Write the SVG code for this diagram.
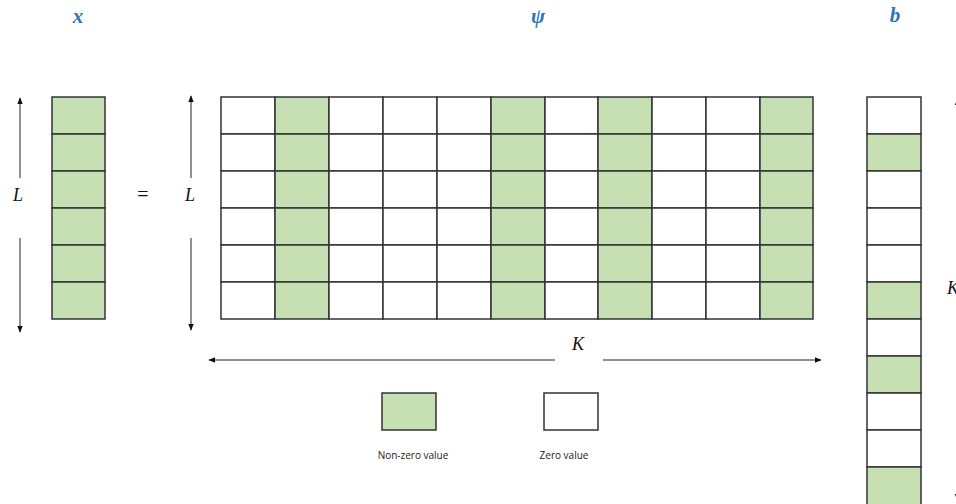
<svg xmlns="http://www.w3.org/2000/svg" width="956" height="504" viewBox="0 0 956 504">
<style>
.nz{fill:#c6e0b4;stroke:#333;stroke-width:1.5}
.z{fill:#fff;stroke:#333;stroke-width:1.5}
.dim{stroke:#222;stroke-width:1;fill:none}
.var{font-family:"Liberation Serif",serif;font-style:italic;font-size:18px;fill:#111}
.ttl{font-family:"Liberation Serif",serif;font-style:italic;font-weight:bold;font-size:21px;fill:#2e75b6}
.leg{font-family:"Open Sans","Liberation Sans",sans-serif;font-size:10px;fill:#222}
</style>
<defs>
<marker id="ah" viewBox="0 0 10 10" refX="9" refY="5" markerWidth="7" markerHeight="7" orient="auto-start-reverse">
<path d="M0,1 L10,5 L0,9 Z" fill="#111"/>
</marker>
</defs>
<rect width="956" height="504" fill="#fff"/>
<g id="titles">
<text class="ttl" x="78" y="23" text-anchor="middle">x</text>
<text class="ttl" x="538" y="23" text-anchor="middle">ψ</text>
<text class="ttl" x="895" y="22" text-anchor="middle">b</text>
</g>
<g id="vector-x">
<rect class="nz" x="52" y="97" width="53" height="37"/>
<rect class="nz" x="52" y="134" width="53" height="37"/>
<rect class="nz" x="52" y="171" width="53" height="37"/>
<rect class="nz" x="52" y="208" width="53" height="37"/>
<rect class="nz" x="52" y="245" width="53" height="37"/>
<rect class="nz" x="52" y="282" width="53" height="37"/>
</g>
<g id="equals"><text class="var" x="143" y="201" text-anchor="middle" style="font-style:normal;font-size:20px">=</text></g>
<g id="matrix-psi">
<g id="col0"><rect class="z" x="221" y="97" width="54" height="37"/><rect class="z" x="221" y="134" width="54" height="37"/><rect class="z" x="221" y="171" width="54" height="37"/><rect class="z" x="221" y="208" width="54" height="37"/><rect class="z" x="221" y="245" width="54" height="37"/><rect class="z" x="221" y="282" width="54" height="37"/></g>
<g id="col1"><rect class="nz" x="275" y="97" width="54" height="37"/><rect class="nz" x="275" y="134" width="54" height="37"/><rect class="nz" x="275" y="171" width="54" height="37"/><rect class="nz" x="275" y="208" width="54" height="37"/><rect class="nz" x="275" y="245" width="54" height="37"/><rect class="nz" x="275" y="282" width="54" height="37"/></g>
<g id="col2"><rect class="z" x="329" y="97" width="54" height="37"/><rect class="z" x="329" y="134" width="54" height="37"/><rect class="z" x="329" y="171" width="54" height="37"/><rect class="z" x="329" y="208" width="54" height="37"/><rect class="z" x="329" y="245" width="54" height="37"/><rect class="z" x="329" y="282" width="54" height="37"/></g>
<g id="col3"><rect class="z" x="383" y="97" width="54" height="37"/><rect class="z" x="383" y="134" width="54" height="37"/><rect class="z" x="383" y="171" width="54" height="37"/><rect class="z" x="383" y="208" width="54" height="37"/><rect class="z" x="383" y="245" width="54" height="37"/><rect class="z" x="383" y="282" width="54" height="37"/></g>
<g id="col4"><rect class="z" x="437" y="97" width="54" height="37"/><rect class="z" x="437" y="134" width="54" height="37"/><rect class="z" x="437" y="171" width="54" height="37"/><rect class="z" x="437" y="208" width="54" height="37"/><rect class="z" x="437" y="245" width="54" height="37"/><rect class="z" x="437" y="282" width="54" height="37"/></g>
<g id="col5"><rect class="nz" x="491" y="97" width="54" height="37"/><rect class="nz" x="491" y="134" width="54" height="37"/><rect class="nz" x="491" y="171" width="54" height="37"/><rect class="nz" x="491" y="208" width="54" height="37"/><rect class="nz" x="491" y="245" width="54" height="37"/><rect class="nz" x="491" y="282" width="54" height="37"/></g>
<g id="col6"><rect class="z" x="545" y="97" width="53" height="37"/><rect class="z" x="545" y="134" width="53" height="37"/><rect class="z" x="545" y="171" width="53" height="37"/><rect class="z" x="545" y="208" width="53" height="37"/><rect class="z" x="545" y="245" width="53" height="37"/><rect class="z" x="545" y="282" width="53" height="37"/></g>
<g id="col7"><rect class="nz" x="598" y="97" width="54" height="37"/><rect class="nz" x="598" y="134" width="54" height="37"/><rect class="nz" x="598" y="171" width="54" height="37"/><rect class="nz" x="598" y="208" width="54" height="37"/><rect class="nz" x="598" y="245" width="54" height="37"/><rect class="nz" x="598" y="282" width="54" height="37"/></g>
<g id="col8"><rect class="z" x="652" y="97" width="54" height="37"/><rect class="z" x="652" y="134" width="54" height="37"/><rect class="z" x="652" y="171" width="54" height="37"/><rect class="z" x="652" y="208" width="54" height="37"/><rect class="z" x="652" y="245" width="54" height="37"/><rect class="z" x="652" y="282" width="54" height="37"/></g>
<g id="col9"><rect class="z" x="706" y="97" width="54" height="37"/><rect class="z" x="706" y="134" width="54" height="37"/><rect class="z" x="706" y="171" width="54" height="37"/><rect class="z" x="706" y="208" width="54" height="37"/><rect class="z" x="706" y="245" width="54" height="37"/><rect class="z" x="706" y="282" width="54" height="37"/></g>
<g id="col10"><rect class="nz" x="760" y="97" width="53" height="37"/><rect class="nz" x="760" y="134" width="53" height="37"/><rect class="nz" x="760" y="171" width="53" height="37"/><rect class="nz" x="760" y="208" width="53" height="37"/><rect class="nz" x="760" y="245" width="53" height="37"/><rect class="nz" x="760" y="282" width="53" height="37"/></g>
</g>
<g id="vector-b">
<rect class="z" x="867" y="97" width="54" height="37"/>
<rect class="nz" x="867" y="134" width="54" height="37"/>
<rect class="z" x="867" y="171" width="54" height="37"/>
<rect class="z" x="867" y="208" width="54" height="37"/>
<rect class="z" x="867" y="245" width="54" height="37"/>
<rect class="nz" x="867" y="282" width="54" height="37"/>
<rect class="z" x="867" y="319" width="54" height="37"/>
<rect class="nz" x="867" y="356" width="54" height="37"/>
<rect class="z" x="867" y="393" width="54" height="37"/>
<rect class="z" x="867" y="430" width="54" height="37"/>
<rect class="nz" x="867" y="467" width="54" height="40"/>
</g>
<g id="legend">
<g id="legend-nonzero"><rect class="nz" x="382" y="393" width="54" height="37"/><text class="leg" x="413" y="459" text-anchor="middle">Non-zero value</text></g>
<g id="legend-zero"><rect class="z" x="544" y="393" width="54" height="37"/><text class="leg" x="564" y="459" text-anchor="middle">Zero value</text></g>
</g>
<g id="connectors">
<line class="dim" x1="20" y1="178" x2="20" y2="98" marker-end="url(#ah)"/>
<line class="dim" x1="20" y1="238" x2="20" y2="332" marker-end="url(#ah)"/>
<line class="dim" x1="191" y1="178" x2="191" y2="96" marker-end="url(#ah)"/>
<line class="dim" x1="191" y1="238" x2="191" y2="330" marker-end="url(#ah)"/>
<line class="dim" x1="555" y1="360" x2="209" y2="360" marker-end="url(#ah)"/>
<line class="dim" x1="603" y1="360" x2="821" y2="360" marker-end="url(#ah)"/>
<line class="dim" x1="957.5" y1="270" x2="957.5" y2="99" marker-end="url(#ah)"/>
<line class="dim" x1="957.5" y1="310" x2="957.5" y2="500" marker-end="url(#ah)"/>
</g>
<g id="dim-labels">
<text class="var" x="18" y="201" text-anchor="middle">L</text>
<text class="var" x="190" y="201" text-anchor="middle">L</text>
<text class="var" x="578" y="350" text-anchor="middle">K</text>
<text class="var" x="947" y="294">K</text>
</g>
</svg>
